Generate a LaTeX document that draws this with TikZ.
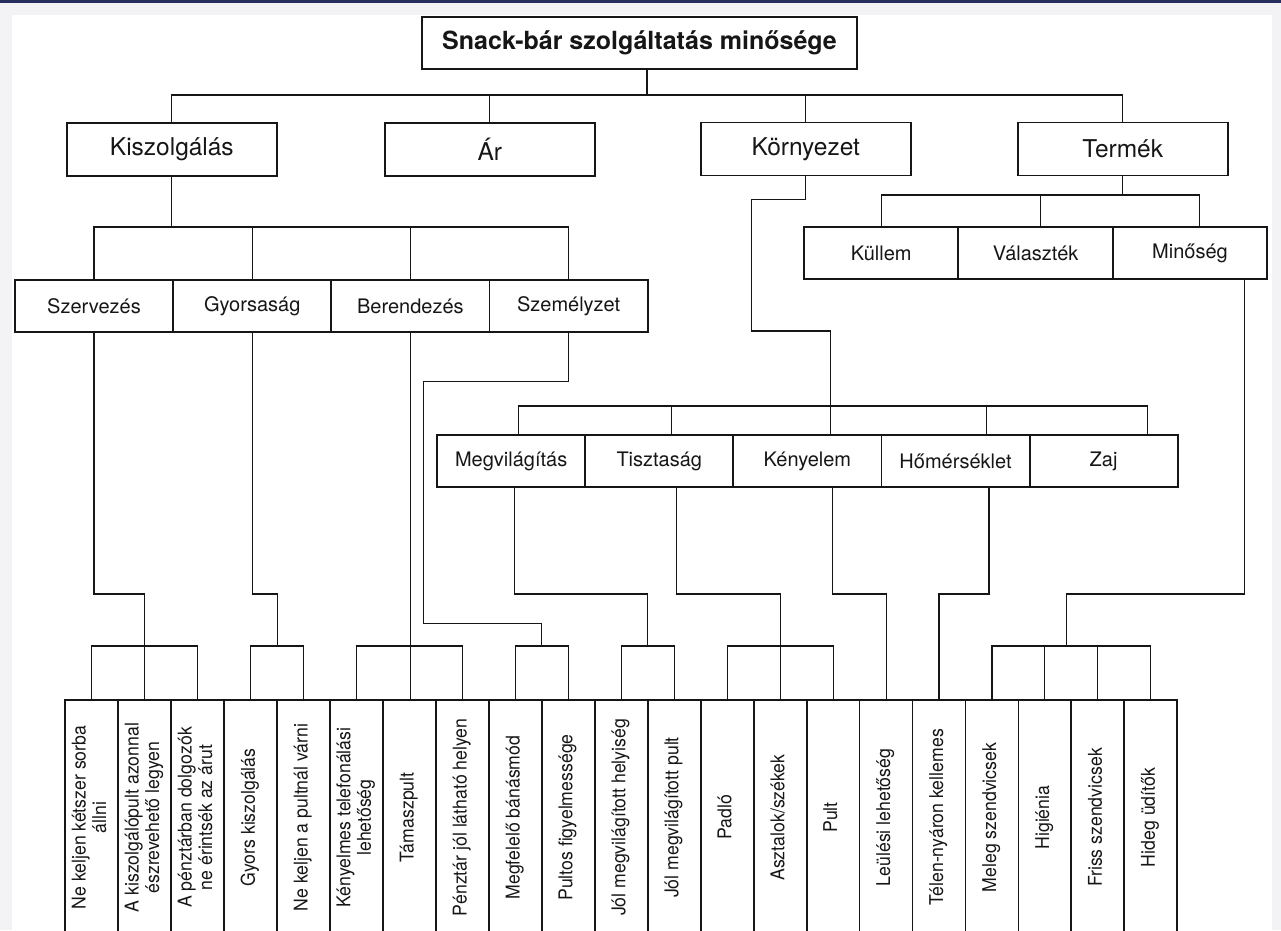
\documentclass[tikz,border=0pt]{standalone}
\usepackage{fontspec}
\setmainfont{TeX Gyre Heros}
\newfontfamily\leaffont[FakeStretch=0.93]{TeX Gyre Heros}
\usetikzlibrary{calc}
\definecolor{ink}{RGB}{22,22,22}
\definecolor{band}{RGB}{38,46,96}
\definecolor{margin}{RGB}{243,243,246}
\newcommand\leaftext[1]{\begin{tabular}{@{}c@{}}#1\end{tabular}}
\begin{document}
\begin{tikzpicture}[x=1pt,y=-1pt,
  box/.style={draw=ink,line width=1.9pt,text=ink,inner sep=0pt,outer sep=0pt,minimum height=52pt},
  titlebox/.style={box,line width=2.4pt,minimum width=435pt,font=\bfseries\fontsize{25}{30}\selectfont},
  lvlone/.style={box,minimum width=210pt,minimum height=53pt,font=\fontsize{24.5}{28}\selectfont},
  lvltwo/.style={box,minimum width=158.2pt,font=\fontsize{20}{24}\selectfont},
  lvltwot/.style={lvltwo,minimum width=154.4pt},
  lvlthree/.style={box,minimum width=148.1pt,font=\fontsize{20}{24}\selectfont},
  leaf/.style={draw=ink,line width=1.8pt,text=ink,inner sep=0pt,outer sep=0pt,minimum width=52.95pt,minimum height=235pt,font=\leaffont\fontsize{19}{20.5}\selectfont},
  conn/.style={draw=ink,line width=1.1pt}
]
\useasboundingbox (0,0) rectangle (1281,930);
\fill[margin] (0,0) rectangle (1281,930);
\fill[white] (12,15) rectangle (1272,930);
\fill[band] (0,0) rectangle (1281,2.5);

% level 0 and 1
\node[titlebox] (title) at (639.5,43) {Snack-bár szolgáltatás minősége};
\node[lvlone] (kisz) at (171.8,149.5) {Kiszolgálás};
\node[lvlone] (ar) at (489.8,149.5) {Ár};
\node[lvlone] (korny) at (805.8,149) {Környezet};
\node[lvlone] (term) at (1122.7,149) {Termék};

% level 2
\node[lvltwo] (szerv) at (94,306) {Szervezés};
\node[lvltwo] (gyors) at (252.2,306) {Gyorsaság};
\node[lvltwo] (beren) at (410.4,306) {Berendezés};
\node[lvltwo] (szemely) at (568.6,306) {Személyzet};
\node[lvltwot] (kull) at (881.2,253) {Küllem};
\node[lvltwot] (valaszt) at (1035.6,253) {Választék};
\node[lvltwot] (minos) at (1190,253) {Minőség};

% level 3
\node[lvlthree] (megv) at (511.2,461) {Megvilágítás};
\node[lvlthree] (tiszt) at (659.3,461) {Tisztaság};
\node[lvlthree] (keny) at (807.4,461) {Kényelem};
\node[lvlthree] (homer) at (955.5,461) {Hőmérséklet};
\node[lvlthree] (zaj) at (1103.6,461) {Zaj};

% leaves
\begin{scope}
\clip (0,0) rectangle (1281,930);
\foreach \t [count=\i] in {
  {Ne keljen kétszer sorba\\állni},
  {A kiszolgálópult azonnal\\észrevehető legyen},
  {A pénztárban dolgozók\\ne érintsék az árut},
  {Gyors kiszolgálás},
  {Ne keljen a pultnál várni},
  {Kényelmes telefonálási\\lehetőség},
  {Támaszpult},
  {Pénztár jól látható helyen},
  {Megfelelő bánásmód},
  {Pultos figyelmessége},
  {Jól megvilágított helyiség},
  {Jól megvilágított pult},
  {Padló},
  {Asztalok/székek},
  {Pult},
  {Leülési lehetőség},
  {Télen-nyáron kellemes},
  {Meleg szendvicsek},
  {Higiénia},
  {Friss szendvicsek},
  {Hideg üdítők}}
  \node[leaf] (l\i) at ({91.8+52.95*(\i-1)},817.5) {\rotatebox{90}{\leaftext{\t}}};
\end{scope}

% connectors level 0 -> 1
\coordinate (bus1) at (647,95);
\draw[conn] (title.south -| bus1) -- (bus1);
\draw[conn] (kisz.north) |- (term.north |- bus1) -- (term.north);
\draw[conn] (ar.north) -- (ar.north |- bus1);
\draw[conn] (korny.north) -- (korny.north |- bus1);

% Kiszolgalas -> level 2
\coordinate (bus2) at (0,227);
\draw[conn] (kisz.south) -- (kisz.south |- bus2);
\draw[conn] (szerv.north) |- (szemely.north |- bus2) -- (szemely.north);
\draw[conn] (gyors.north) -- (gyors.north |- bus2);
\draw[conn] (beren.north) -- (beren.north |- bus2);

% Termek -> level 2
\coordinate (bus3) at (0,195);
\coordinate (vt) at ([xshift=5.2pt]valaszt.north);
\coordinate (mnt) at ([xshift=9.2pt]minos.north);
\draw[conn] (term.south) -- (term.south |- bus3);
\draw[conn] (kull.north) |- (mnt |- bus3) -- (mnt);
\draw[conn] (vt) -- (vt |- bus3);

% Kornyezet -> level 3
\coordinate (kt) at ([xshift=23.2pt]keny.north);
\coordinate (k1) at (751.4,199.3);
\coordinate (k2) at (751.4,331);
\draw[conn] (korny.south) |- (k1) -- (k2) -| (kt);
\coordinate (bus4) at (0,406);
\coordinate (mt) at ([xshift=7.2pt]megv.north);
\coordinate (tt) at ([xshift=12.5pt]tiszt.north);
\coordinate (ht) at ([xshift=31pt]homer.north);
\coordinate (zt) at ([xshift=44.2pt]zaj.north);
\draw[conn] (mt) |- (zt |- bus4) -- (zt);
\draw[conn] (tt) -- (tt |- bus4);
\draw[conn] (ht) -- (ht |- bus4);

% to leaves
\coordinate (ylow) at (0,594);
\coordinate (ybar) at (0,646);

\draw[conn] (szerv.south) |- (ylow -| l2.north) -- (l2.north);
\draw[conn] (l1.north) |- (l3.north |- ybar) -- (l3.north);

\coordinate (j2) at ($(l4.north)!0.5!(l5.north)$);
\draw[conn] (gyors.south) |- (ylow -| j2) -- (j2 |- ybar);
\draw[conn] (l4.north) |- (l5.north |- ybar) -- (l5.north);

\draw[conn] (beren.south) -- (beren.south |- l7.north);
\draw[conn] (l6.north) |- (l8.north |- ybar) -- (l8.north);

\coordinate (s1) at (423.7,381.7);
\coordinate (s2) at (423.7,623.3);
\coordinate (j4) at ($(l9.north)!0.5!(l10.north)$);
\draw[conn] (szemely.south) |- (s1) -- (s2) -| (j4 |- ybar);
\draw[conn] (l9.north) |- (l10.north |- ybar) -- (l10.north);

\coordinate (mb) at ([xshift=3pt]megv.south);
\coordinate (j5) at ($(l11.north)!0.5!(l12.north)$);
\draw[conn] (mb) |- (ylow -| j5) -- (j5 |- ybar);
\draw[conn] (l11.north) |- (l12.north |- ybar) -- (l12.north);

\coordinate (tb) at ([xshift=17.4pt]tiszt.south);
\draw[conn] (tb) |- (ylow -| l14.north) -- (l14.north);
\draw[conn] (l13.north) |- (l15.north |- ybar) -- (l15.north);

\coordinate (kb) at ([xshift=25.3pt]keny.south);
\draw[conn] (kb) |- (ylow -| l16.north) -- (l16.north);
\coordinate (hb) at ([xshift=33.5pt]homer.south);
\draw[conn] (hb) |- (ylow -| l17.north) -- (l17.north);

\coordinate (mnb) at ([xshift=54.5pt]minos.south);
\coordinate (j7) at ($(l19.north)!0.4!(l20.north)$);
\draw[conn] (mnb) |- (ylow -| j7) -- (j7 |- ybar);
\draw[conn] (l18.north) |- (l21.north |- ybar) -- (l21.north);
\draw[conn] (l19.north) -- (l19.north |- ybar);
\draw[conn] (l20.north) -- (l20.north |- ybar);
\end{tikzpicture}
\end{document}
